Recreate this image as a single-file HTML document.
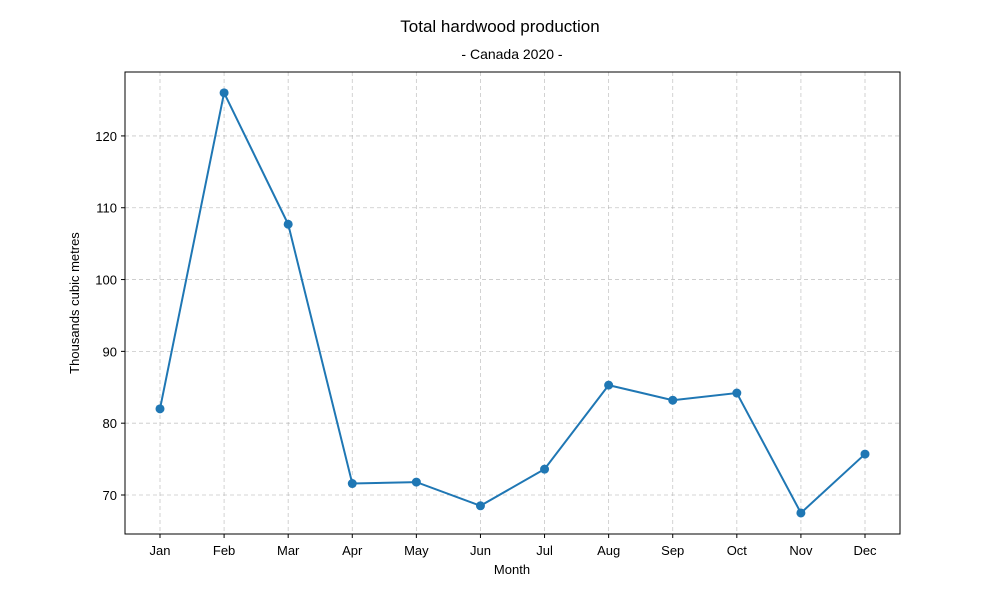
<!DOCTYPE html>
<html><head><meta charset="utf-8"><style>
body{margin:0;background:#fff;}
svg text{font-family:"Liberation Sans","DejaVu Sans",sans-serif;fill:#000;}
</style></head><body>
<svg id="chart" width="1000" height="600">
<rect width="1000" height="600" fill="#fff"/>
<text x="500" y="32" font-size="17" text-anchor="middle">Total hardwood production</text>
<text x="512" y="59" font-size="14" text-anchor="middle">- Canada 2020 -</text>
<g id="grid"></g>
<g id="axes"></g>
<g id="series"></g>
<rect x="125" y="72" width="775" height="462" fill="none" stroke="#000" stroke-width="1"/>
<text x="512" y="574" font-size="13" text-anchor="middle">Month</text>
<text x="0" y="0" font-size="13" text-anchor="middle" transform="translate(79,303) rotate(-90)">Thousands cubic metres</text>
</svg>
<script>
const months=["Jan","Feb","Mar","Apr","May","Jun","Jul","Aug","Sep","Oct","Nov","Dec"];
const production=[82.0,126.0,107.7,71.6,71.8,68.5,73.6,85.3,83.2,84.2,67.5,75.7];
const yTicks=[70,80,90,100,110,120];
const NS="http://www.w3.org/2000/svg";
const x0=125,x1=900,y0=72,y1=534;
const yMin=64.57,yMax=128.9;
function xs(i){return 160+i*(865-160)/(months.length-1);}
function ys(v){return y1-(v-yMin)/(yMax-yMin)*(y1-y0);}
function mk(tag,attrs,parent){const e=document.createElementNS(NS,tag);for(const k in attrs)e.setAttribute(k,attrs[k]);parent.appendChild(e);return e;}
const grid=document.getElementById('grid'),axes=document.getElementById('axes'),series=document.getElementById('series');
months.forEach((m,i)=>{
 const x=xs(i);
 const g=mk('line',{x1:x,x2:x,y1:y0,y2:y1,stroke:'#b0b0b0','stroke-width':0.8,'stroke-dasharray':'4,3',opacity:0.7},grid);
 
 
 const t=mk('line',{x1:x,x2:x,y1:y1,y2:y1+4,stroke:'#000'},axes);
 
 
 const l=mk('text',{x:x,y:y1+21,'font-size':13,'text-anchor':'middle'},axes);
 l.textContent=m;
 
 
});
yTicks.forEach(v=>{
 const y=ys(v);
 const g=mk('line',{x1:x0,x2:x1,y1:y,y2:y,stroke:'#b0b0b0','stroke-width':0.8,'stroke-dasharray':'4,3',opacity:0.7},grid);
 
 
 const t=mk('line',{x1:x0-4,x2:x0,y1:y,y2:y,stroke:'#000'},axes);
 
 
 const l=mk('text',{x:x0-8,y:y+5,'font-size':13,'text-anchor':'end'},axes);
 l.textContent=v;
 
 
});
const pts=production.map((v,i)=>xs(i)+','+ys(v)).join(' ');
const line=mk('polyline',{points:pts,fill:'none',stroke:'#1f77b4','stroke-width':2},series);


production.forEach((v,i)=>{
 const c=mk('circle',{cx:xs(i),cy:ys(v),r:4.5,fill:'#1f77b4'},series);
 
 
});
</script>
</body></html>
